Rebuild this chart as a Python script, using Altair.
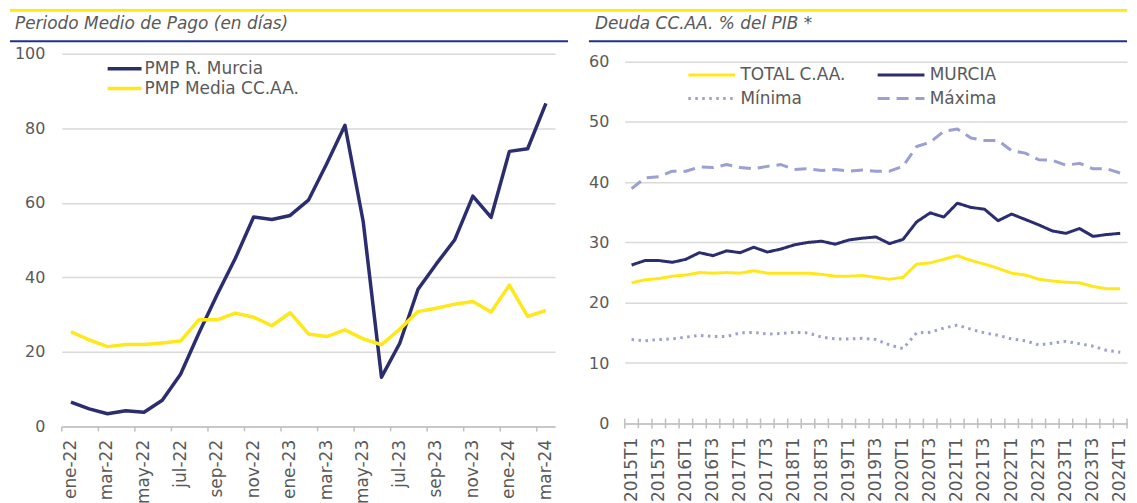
import altair as alt
import pandas as pd

# ---------------- data ----------------
meses = ["ene-22", "feb-22", "mar-22", "abr-22", "may-22", "jun-22", "jul-22", "ago-22",
         "sep-22", "oct-22", "nov-22", "dic-22", "ene-23", "feb-23", "mar-23", "abr-23",
         "may-23", "jun-23", "jul-23", "ago-23", "sep-23", "oct-23", "nov-23", "dic-23",
         "ene-24", "feb-24", "mar-24"]
pmp_murcia = [6.5, 4.7, 3.4, 4.2, 3.8, 7.0, 14.0, 25.0, 35.3, 45.1, 56.2, 55.5, 56.6, 60.7,
              70.5, 80.8, 54.9, 13.2, 22.3, 36.8, 43.6, 50.0, 61.8, 56.1, 73.8, 74.5, 86.7]
pmp_media = [25.4, 23.2, 21.4, 22.0, 22.0, 22.4, 22.9, 28.6, 28.6, 30.4, 29.3, 27.0, 30.5, 24.8,
             24.1, 25.9, 23.5, 21.9, 26.1, 30.8, 31.7, 32.8, 33.5, 30.7, 37.9, 29.5, 31.1]
series_izq = ["PMP R. Murcia", "PMP Media CC.AA."]

trimestres = ["2015T1", "2015T2", "2015T3", "2015T4", "2016T1", "2016T2", "2016T3", "2016T4",
              "2017T1", "2017T2", "2017T3", "2017T4", "2018T1", "2018T2", "2018T3", "2018T4",
              "2019T1", "2019T2", "2019T3", "2019T4", "2020T1", "2020T2", "2020T3", "2020T4",
              "2021T1", "2021T2", "2021T3", "2021T4", "2022T1", "2022T2", "2022T3", "2022T4",
              "2023T1", "2023T2", "2023T3", "2023T4", "2024T1"]
deuda_total = [23.3, 23.8, 24.0, 24.4, 24.6, 25.0, 24.9, 25.0, 24.9, 25.3, 24.9, 24.9, 24.9,
               24.9, 24.7, 24.4, 24.4, 24.5, 24.2, 23.9, 24.2, 26.4, 26.6, 27.2, 27.8, 27.0,
               26.4, 25.7, 24.9, 24.6, 23.9, 23.6, 23.4, 23.3, 22.7, 22.3, 22.3]
deuda_murcia = [26.25, 27.0, 27.0, 26.7, 27.2, 28.3, 27.8, 28.6, 28.3, 29.2, 28.4, 28.9, 29.6,
                30.0, 30.2, 29.7, 30.4, 30.7, 30.9, 29.8, 30.5, 33.4, 34.9, 34.2, 36.5, 35.8,
                35.5, 33.6, 34.7, 33.8, 32.9, 31.9, 31.5, 32.3, 31.0, 31.3, 31.5]
deuda_minima = [13.9, 13.7, 13.9, 14.0, 14.3, 14.6, 14.4, 14.4, 15.0, 15.1, 14.8, 14.9, 15.1,
                15.0, 14.3, 14.0, 14.0, 14.1, 13.9, 13.0, 12.4, 15.0, 15.1, 15.8, 16.3, 15.6,
                15.0, 14.6, 14.0, 13.7, 13.0, 13.3, 13.6, 13.2, 12.8, 12.1, 11.8]
deuda_maxima = [38.9, 40.7, 40.9, 41.8, 41.8, 42.5, 42.4, 42.9, 42.4, 42.2, 42.6, 42.9, 42.1,
                42.2, 41.9, 42.1, 41.8, 42.0, 41.8, 41.8, 42.6, 45.9, 46.6, 48.4, 48.8, 47.3,
                46.9, 46.9, 45.2, 44.8, 43.7, 43.6, 42.8, 43.1, 42.2, 42.2, 41.5]
# legend order (filled column by column): TOTAL C.AA. / Mínima | MURCIA / Máxima
series_der = ["TOTAL C.AA.", "Mínima", "MURCIA", "Máxima"]

titulo_izq = "Periodo Medio de Pago (en días)"
titulo_der = "Deuda CC.AA. % del PIB *"

# ---------------- style ----------------
FONT = "DejaVu Sans"
GRAY = "#595959"
NAVY = "#2b2d6e"
YELLOW = "#ffe81a"
LILA = "#9b9fd1"
BAND = "#ffec00"
RULE_NAVY = "#1f3388"
AXIS_GRAY = "#bfbfbf"
GRID = "#d9d9d9"
LEG_PATH = "M-1,0L3,0"   # long horizontal stroke, compact row height

L_W, L_H = 495, 374
R_W, R_H = 504, 371
R_TOP = 7.7


def one(text=""):
    return pd.DataFrame({"t": [text]})


# ---------------- left panel ----------------
df_l = pd.DataFrame({
    "mes": meses * 2,
    "valor": pmp_murcia + pmp_media,
    "serie": [series_izq[0]] * len(meses) + [series_izq[1]] * len(meses),
})

x_scale_l = alt.Scale(type="band", paddingInner=0, paddingOuter=0)
x_axis_l = alt.Axis(values=meses[::2], labelAngle=-90, ticks=False, tickSize=0, labelPadding=13,
                    labelFontSize=17, domainColor=AXIS_GRAY, domainWidth=1.5, grid=False,
                    title=None)

lines_l = alt.Chart(df_l).mark_line(strokeWidth=3.5, strokeJoin="round").encode(
    x=alt.X("mes:N", sort=meses, scale=x_scale_l, axis=x_axis_l),
    y=alt.Y("valor:Q", scale=alt.Scale(domain=[0, 100], nice=False),
            axis=alt.Axis(values=[0, 20, 40, 60, 80, 100], title=None, domain=False, ticks=False,
                          tickSize=0, labelPadding=17, gridColor=GRID, gridWidth=1.5)),
    color=alt.Color("serie:N", scale=alt.Scale(domain=series_izq, range=[NAVY, YELLOW]),
                    legend=alt.Legend(orient="none", legendX=44, legendY=4.5, title=None,
                                      symbolType=LEG_PATH, symbolSize=289,
                                      symbolStrokeWidth=3.5, labelOffset=18, rowPadding=1,
                                      padding=0, direction="vertical")),
)

ticks_l = alt.Chart(pd.DataFrame({"mes": meses[::2]})).mark_rule(
    color=AXIS_GRAY, strokeWidth=1.5).encode(
    x=alt.X("mes:N", sort=meses, scale=x_scale_l, axis=x_axis_l, bandPosition=0),
    y=alt.value(L_H), y2=alt.value(L_H + 5),
)

band_l = alt.Chart(one()).mark_rule(color=BAND, strokeWidth=3).encode(
    x=alt.value(-52), x2=alt.value(516), y=alt.value(-43.5))
under_l = alt.Chart(one()).mark_rule(color=RULE_NAVY, strokeWidth=2).encode(
    x=alt.value(-52), x2=alt.value(508), y=alt.value(-12.5))
title_l = alt.Chart(one(titulo_izq)).mark_text(
    align="left", baseline="alphabetic", font=FONT, fontSize=17, fontStyle="italic",
    color=GRAY).encode(x=alt.value(-47), y=alt.value(-25), text="t:N")

left = alt.layer(band_l, under_l, title_l, lines_l, ticks_l).properties(width=L_W, height=L_H)

# ---------------- right panel ----------------
df_r = pd.DataFrame({
    "q": trimestres * 4,
    "valor": deuda_total + deuda_minima + deuda_murcia + deuda_maxima,
    "serie": sum([[s] * len(trimestres) for s in series_der], []),
})

x_scale_r = alt.Scale(type="band", paddingInner=0, paddingOuter=0)
x_axis_r = alt.Axis(values=trimestres[::2], labelAngle=-90, ticks=False, tickSize=0,
                    labelPadding=14, labelFontSize=17, domainColor=AXIS_GRAY, domainWidth=1.5,
                    grid=False, title=None)
leg_r = alt.Legend(orient="none", legendX=62, legendY=7.5, title=None, columns=2,
                   symbolType=LEG_PATH, symbolSize=552, symbolStrokeWidth=3,
                   labelOffset=27, rowPadding=2, columnPadding=25, padding=0)

lines_r = alt.Chart(df_r).mark_line(strokeWidth=3, strokeJoin="round").encode(
    x=alt.X("q:N", sort=trimestres, scale=x_scale_r, axis=x_axis_r),
    y=alt.Y("valor:Q", scale=alt.Scale(domain=[0, 60], nice=False, range=[R_H, R_TOP]),
            axis=alt.Axis(values=[0, 10, 20, 30, 40, 50, 60], title=None, domain=False,
                          ticks=False, tickSize=0, labelPadding=16, gridColor=GRID,
                          gridWidth=1.5)),
    color=alt.Color("serie:N", scale=alt.Scale(domain=series_der,
                                               range=[YELLOW, LILA, NAVY, LILA]), legend=leg_r),
    strokeDash=alt.StrokeDash("serie:N", scale=alt.Scale(
        domain=series_der, range=[[1, 0], [2.5, 4.5], [1, 0], [12, 7]]), legend=leg_r),
)

ticks_r = alt.Chart(pd.DataFrame({"q": trimestres})).mark_rule(
    color=AXIS_GRAY, strokeWidth=1.5).encode(
    x=alt.X("q:N", sort=trimestres, scale=x_scale_r, axis=x_axis_r, bandPosition=0),
    y=alt.value(R_H - 5), y2=alt.value(R_H + 5),
)
tick_end_r = alt.Chart(pd.DataFrame({"q": trimestres[-1:]})).mark_rule(
    color=AXIS_GRAY, strokeWidth=1.5).encode(
    x=alt.X("q:N", sort=trimestres, scale=x_scale_r, axis=x_axis_r, bandPosition=1),
    y=alt.value(R_H - 5), y2=alt.value(R_H + 5),
)

band_r = alt.Chart(one()).mark_rule(color=BAND, strokeWidth=3).encode(
    x=alt.value(-49), x2=alt.value(504), y=alt.value(-43.5))
under_r = alt.Chart(one()).mark_rule(color=RULE_NAVY, strokeWidth=2).encode(
    x=alt.value(-36), x2=alt.value(504), y=alt.value(-12.5))
title_r = alt.Chart(one(titulo_der)).mark_text(
    align="left", baseline="alphabetic", font=FONT, fontSize=17, fontStyle="italic",
    color=GRAY).encode(x=alt.value(-30), y=alt.value(-25), text="t:N")

right = alt.layer(band_r, under_r, title_r, lines_r, ticks_r, tick_end_r).properties(
    width=R_W, height=R_H)

chart = alt.hconcat(left, right, spacing=70, bounds="flush").resolve_scale(
    x="independent", y="independent", color="independent", strokeDash="independent"
).properties(
    padding={"left": 0, "top": 0, "right": 0, "bottom": 0}
).configure_view(stroke=None).configure_axis(
    labelFont=FONT, labelFontSize=16, labelColor=GRAY
).configure_legend(
    labelFont=FONT, labelFontSize=17, labelColor=GRAY
)

chart.save("out.html", embed_options={"renderer": "svg", "actions": False})
